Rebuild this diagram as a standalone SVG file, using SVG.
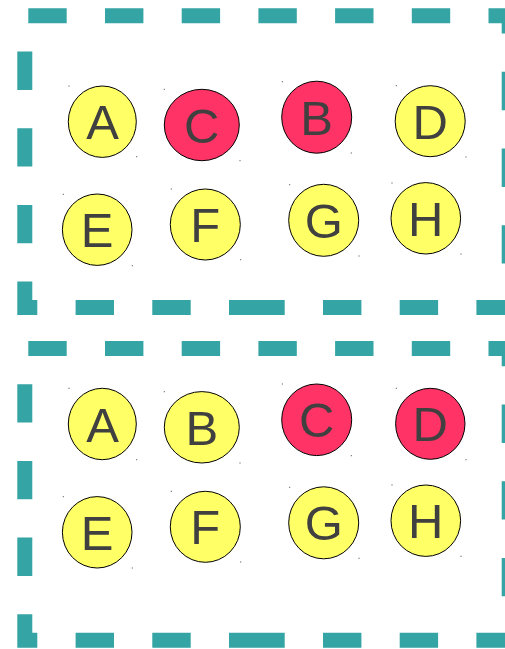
<svg xmlns="http://www.w3.org/2000/svg" width="505" height="649" viewBox="0 0 505 649">
<style>
.frame{fill:none;stroke:#34a4a4;stroke-width:15;stroke-linejoin:miter;stroke-dasharray:0 3.5 38.4 38.3 38.4 38.3 38.4 38.3 38.4 38.3 38.4 38.3 38.4 38.3 38.4 38.3 38.4 38.3 38.4 38.3 38.4 38.3 38.4 38.3 38.4 38.3 38.4 38.3 55.7 38.3 38.4 38.3 38.4 38.3 38.4 38.3 38.4 38.3 38.4 38.3 38.4 38.3}
.y{fill:#ffff66;stroke:#000;stroke-width:1}
.r{fill:#ff3366;stroke:#000;stroke-width:1}
.t{font-family:"Liberation Sans",Arial,sans-serif;font-size:49px;fill:#404040;text-anchor:middle}
.m{fill:#444}
</style>
<defs>
<path id="box" d="M24.8,15.8 H509.2 V307.5 H24.8 Z"/>
</defs>
<g id="frames">
<use href="#box" class="frame"/>
<use href="#box" class="frame" transform="translate(0,332.7)"/>
</g>
<g id="connectors"/>
<g id="panel1">
<g id="p1-A"><ellipse class="y" cx="102.3" cy="121.7" rx="34" ry="35.7"/><text class="t" x="102.5" y="139.2">A</text><rect class="m" x="68.5" y="85.5" width="1" height="1"/><rect class="m" x="136.2" y="156.2" width="1" height="1"/></g>
<g id="p1-C"><ellipse class="r" cx="201.8" cy="125" rx="37.5" ry="35.7"/><text class="t" x="201.8" y="142.5">C</text><rect class="m" x="163.8" y="88.8" width="1" height="1"/><rect class="m" x="239.5" y="160.2" width="1" height="1"/></g>
<g id="p1-B"><ellipse class="r" cx="316.7" cy="117.2" rx="35" ry="36"/><text class="t" x="316.7" y="134.7">B</text><rect class="m" x="281.8" y="81.2" width="1" height="1"/><rect class="m" x="350.8" y="152.5" width="1" height="1"/></g>
<g id="p1-D"><ellipse class="y" cx="430.2" cy="121.2" rx="35" ry="35.5"/><text class="t" x="430.2" y="138.7">D</text><rect class="m" x="395.8" y="85.2" width="1" height="1"/><rect class="m" x="465.5" y="156.5" width="1" height="1"/></g>
<g id="p1-E"><ellipse class="y" cx="97.2" cy="229.7" rx="34.8" ry="35.7"/><text class="t" x="97.2" y="247.2">E</text><rect class="m" x="62.8" y="193.8" width="1" height="1"/><rect class="m" x="131.8" y="265.2" width="1" height="1"/></g>
<g id="p1-F"><ellipse class="y" cx="205.3" cy="224.5" rx="35" ry="35.5"/><text class="t" x="205.3" y="242">F</text><rect class="m" x="170.8" y="188.5" width="1" height="1"/><rect class="m" x="240.2" y="259.2" width="1" height="1"/></g>
<g id="p1-G"><ellipse class="y" cx="323.7" cy="220.3" rx="35" ry="36"/><text class="t" x="323.7" y="237.8">G</text><rect class="m" x="289.2" y="184.2" width="1" height="1"/><rect class="m" x="358.5" y="255.5" width="1" height="1"/></g>
<g id="p1-H"><ellipse class="y" cx="425.8" cy="218.3" rx="34.8" ry="35.7"/><text class="t" x="425.8" y="235.8">H</text><rect class="m" x="391.5" y="182.5" width="1" height="1"/><rect class="m" x="460.5" y="253.5" width="1" height="1"/></g>
</g>
<g id="panel2">
<g id="p2-A"><ellipse class="y" cx="102.3" cy="424" rx="34" ry="35.7"/><text class="t" x="102.5" y="441.5">A</text><rect class="m" x="68.5" y="387.8" width="1" height="1"/><rect class="m" x="136.2" y="459.2" width="1" height="1"/></g>
<g id="p2-B"><ellipse class="y" cx="201.8" cy="427.3" rx="37.5" ry="35.7"/><text class="t" x="201.8" y="444.8">B</text><rect class="m" x="163.8" y="391.2" width="1" height="1"/><rect class="m" x="239.5" y="462.5" width="1" height="1"/></g>
<g id="p2-C"><ellipse class="r" cx="316.7" cy="419.8" rx="35" ry="35.8"/><text class="t" x="316.7" y="437.3">C</text><rect class="m" x="281.8" y="383.5" width="1" height="1"/><rect class="m" x="350.8" y="455.2" width="1" height="1"/></g>
<g id="p2-D"><ellipse class="r" cx="430.3" cy="423.8" rx="34.7" ry="35.5"/><text class="t" x="430.3" y="441.3">D</text><rect class="m" x="395.8" y="387.8" width="1" height="1"/><rect class="m" x="465.5" y="459.2" width="1" height="1"/></g>
<g id="p2-E"><ellipse class="y" cx="97.2" cy="532.3" rx="34.8" ry="35.7"/><text class="t" x="97.2" y="549.8">E</text><rect class="m" x="62.8" y="496.2" width="1" height="1"/><rect class="m" x="131.8" y="567.5" width="1" height="1"/></g>
<g id="p2-F"><ellipse class="y" cx="205.3" cy="526.8" rx="35" ry="35.5"/><text class="t" x="205.3" y="544.3">F</text><rect class="m" x="170.8" y="490.8" width="1" height="1"/><rect class="m" x="240.2" y="561.5" width="1" height="1"/></g>
<g id="p2-G"><ellipse class="y" cx="323.7" cy="522.8" rx="35" ry="36"/><text class="t" x="323.7" y="540.3">G</text><rect class="m" x="289.2" y="486.8" width="1" height="1"/><rect class="m" x="358.5" y="557.8" width="1" height="1"/></g>
<g id="p2-H"><ellipse class="y" cx="425.8" cy="520.7" rx="34.8" ry="35.7"/><text class="t" x="425.8" y="538.2">H</text><rect class="m" x="391.5" y="484.5" width="1" height="1"/><rect class="m" x="460.5" y="555.8" width="1" height="1"/></g>
</g>
</svg>
